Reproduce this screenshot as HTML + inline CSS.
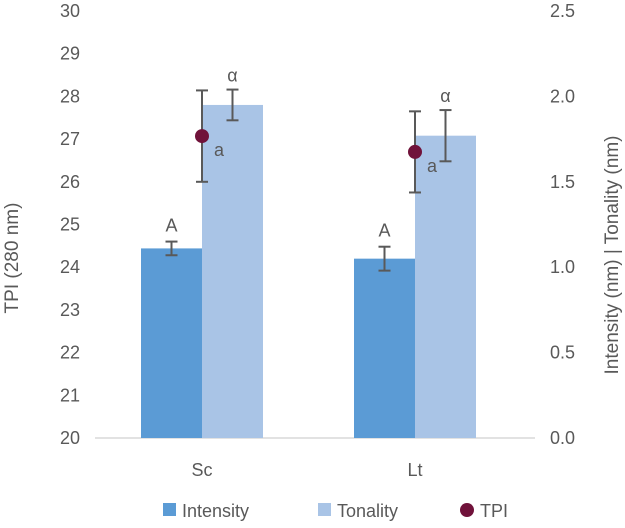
<!DOCTYPE html>
<html><head><meta charset="utf-8"><style>
body{margin:0;background:#fff;}
svg text{font-family:"Liberation Sans",sans-serif;fill:#595959;}
</style></head><body>
<svg id="c" width="625" height="523"></svg>
<script>
const categories=["Sc","Lt"];
const intensity=[1.11,1.05];
const intensityErr=[0.04,0.07];
const tonality=[1.95,1.77];
const tonalityErr=[0.09,0.15];
const tpi=[27.07,26.7];
const tpiErr=[1.07,0.95];
const leftTicks=[20,21,22,23,24,25,26,27,28,29,30];
const rightTicks=[0.0,0.5,1.0,1.5,2.0,2.5];
const intensityLabels=["A","A"];
const tonalityLabels=["α","α"];
const tpiLabels=["a","a"];

const svg=document.getElementById('c');
const NS='http://www.w3.org/2000/svg';
const top0=11,base=438,x0=95,x1=535;
const yL=v=>base-(v-20)/10*(base-top0);
const yR=v=>base-v/2.5*(base-top0);
const cx=i=>202+213*i;
function el(t,a,name,txt){const e=document.createElementNS(NS,t);for(const k in a)e.setAttribute(k,a[k]);


if(txt!==undefined)e.textContent=txt;svg.appendChild(e);return e;}
function errBar(x,yc,yt,yb,name){
el('line',{x1:x,x2:x,y1:yt,y2:yb,stroke:'#595959','stroke-width':2},name);
el('line',{x1:x-6,x2:x+6,y1:yt,y2:yt,stroke:'#595959','stroke-width':2},name+'-cap-top');
el('line',{x1:x-6,x2:x+6,y1:yb,y2:yb,stroke:'#595959','stroke-width':2},name+'-cap-bottom');}
leftTicks.forEach(t=>el('text',{x:80,y:yL(t)+6,'text-anchor':'end','font-size':18},'left-tick-label',t));
rightTicks.forEach(t=>el('text',{x:550,y:yR(t)+6,'font-size':18},'right-tick-label',t.toFixed(1)));
el('line',{x1:x0,x2:x1,y1:base,y2:base,stroke:'#d9d9d9','stroke-width':1.5},'x-axis');
const bw=61;
categories.forEach((c,i)=>{
 const x=cx(i);
 el('rect',{x:x-bw,y:yR(intensity[i]),width:bw,height:base-yR(intensity[i]),fill:'#5b9bd5'},'bar-intensity-'+c);
 el('rect',{x:x,y:yR(tonality[i]),width:bw,height:base-yR(tonality[i]),fill:'#a9c4e6'},'bar-tonality-'+c);
 const xi=x-bw/2,xt=x+bw/2;
 errBar(xi,0,yR(intensity[i]+intensityErr[i]),yR(intensity[i]-intensityErr[i]),'error-intensity-'+c);
 errBar(xt,0,yR(tonality[i]+tonalityErr[i]),yR(tonality[i]-tonalityErr[i]),'error-tonality-'+c);
 errBar(x,0,yL(tpi[i]+tpiErr[i]),yL(tpi[i]-tpiErr[i]),'error-tpi-'+c);
 el('circle',{cx:x,cy:yL(tpi[i]),r:7,fill:'#70123a'},'point-tpi-'+c);
 el('text',{x:xi,y:yR(intensity[i]+intensityErr[i])-10,'text-anchor':'middle','font-size':18},'label-intensity-'+c,intensityLabels[i]);
 el('text',{x:xt,y:yR(tonality[i]+tonalityErr[i])-8,'text-anchor':'middle','font-size':18},'label-tonality-'+c,tonalityLabels[i]);
 el('text',{x:x+12,y:yL(tpi[i])+20,'font-size':18},'label-tpi-'+c,tpiLabels[i]);
 el('text',{x:x,y:476,'text-anchor':'middle','font-size':18},'x-tick-label',c);
});
el('text',{x:18,y:258,'text-anchor':'middle','font-size':19,transform:'rotate(-90 18 258)'},'y-axis-title-left','TPI (280 nm)');
el('text',{x:618,y:255,'text-anchor':'middle','font-size':19,transform:'rotate(-90 618 255)'},'y-axis-title-right','Intensity (nm) | Tonality (nm)');
el('rect',{x:163,y:503,width:13,height:13,fill:'#5b9bd5'},'legend-intensity-swatch');
el('text',{x:182,y:517,'font-size':18},'legend-intensity','Intensity');
el('rect',{x:318,y:503,width:13,height:13,fill:'#a9c4e6'},'legend-tonality-swatch');
el('text',{x:337,y:517,'font-size':18},'legend-tonality','Tonality');
el('circle',{cx:467,cy:510,r:7,fill:'#70123a'},'legend-tpi-marker');
el('text',{x:480,y:517,'font-size':18},'legend-tpi','TPI');
</script>
</body></html>
